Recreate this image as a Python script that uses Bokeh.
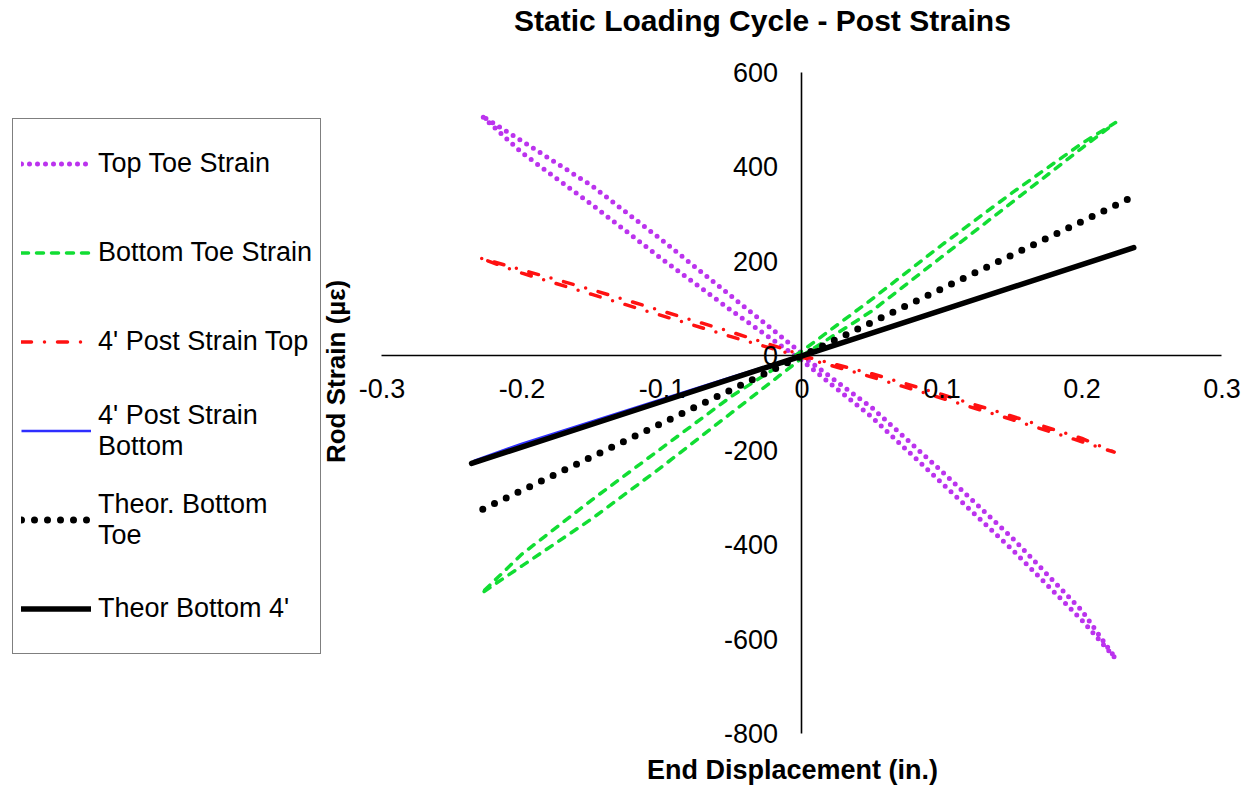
from bokeh.plotting import figure
from bokeh.models import (Range1d, FixedTicker, CustomJSTickFormatter, Label,
                          Legend, LegendItem, AllLabels)
from bokeh.embed import file_html
from bokeh.resources import INLINE

# ---------------- data ----------------
x_ticks = [-0.3, -0.2, -0.1, 0.0, 0.1, 0.2, 0.3]
y_ticks = [-800, -600, -400, -200, 0, 200, 400, 600]

top_toe_x = [0, 0.05, 0.1, 0.15, 0.2, 0.224, 0.2, 0.15, 0.1, 0.05, 0,
             -0.05, -0.1, -0.15, -0.2, -0.229, -0.2, -0.15, -0.1, -0.05, 0]
top_toe_y = [0, -110, -245, -385, -540, -641, -560, -410, -270, -130, -10,
             95, 205, 320, 430, 509, 455, 360, 245, 125, 5]

bot_toe_x = [0, 0.05, 0.1, 0.15, 0.2, 0.224, 0.2, 0.15, 0.1, 0.05, 0,
             -0.05, -0.1, -0.15, -0.2, -0.229, -0.2, -0.15, -0.1, -0.05, 0]
bot_toe_y = [0, 95, 210, 325, 440, 494, 450, 345, 235, 120, 10,
             -85, -195, -305, -420, -503, -445, -345, -235, -120, -5]

post_top_x = [0, 0.05, 0.1, 0.15, 0.2, 0.223, 0.2, 0.15, 0.1, 0.05, 0,
              -0.05, -0.1, -0.15, -0.2, -0.231, -0.2, -0.15, -0.1, -0.05, 0]
post_top_y = [0, -38, -82, -128, -175, -204, -182, -135, -90, -45, -3,
              40, 85, 130, 175, 208, 182, 140, 95, 50, 2]

post_bot_x = [0, 0.05, 0.1, 0.15, 0.2, 0.235, 0.2, 0.15, 0.1, 0.05, 0,
              -0.05, -0.1, -0.15, -0.2, -0.234, -0.2, -0.15, -0.1, -0.05, 0]
post_bot_y = [0, 47, 95, 144, 193, 227, 194, 146, 97, 49, 1,
              -45, -92, -139, -186, -222, -188, -141, -94, -47, 0]

theor_toe_x = [-0.228, 0, 0.236]
theor_toe_y = [-325, 0, 336]

theor_4_x = [-0.236, 0, 0.237]
theor_4_y = [-228, 0, 229]

labels = ["Top Toe Strain", "Bottom Toe Strain", "4' Post Strain Top",
          "4' Post Strain\nBottom", "Theor. Bottom\nToe", "Theor Bottom 4'"]

FONT = "Liberation Sans"

# ---------------- figure ----------------
p = figure(width=1251, height=787, output_backend="svg", toolbar_location=None,
           title=None,
           x_range=Range1d(-0.5725, 0.3211), y_range=Range1d(-914.4, 752.6),
           min_border=0, min_border_left=0, min_border_right=0,
           min_border_top=0, min_border_bottom=0)
p.grid.visible = False
p.outline_line_color = None
p.background_fill_color = "white"
p.border_fill_color = "white"

for ax in (p.xaxis[0], p.yaxis[0]):
    ax.fixed_location = 0
    ax.axis_line_color = "black"
    ax.axis_line_width = 1.6
    ax.major_tick_line_color = None
    ax.minor_tick_line_color = None
    ax.major_tick_in = 0
    ax.major_tick_out = 0
    ax.major_label_text_font = FONT
    ax.major_label_text_font_size = "27px"
    ax.major_label_text_color = "black"
    ax.major_label_policy = AllLabels()

p.xaxis[0].bounds = (x_ticks[0], x_ticks[-1])
p.xaxis[0].ticker = FixedTicker(ticks=x_ticks)
p.xaxis[0].formatter = CustomJSTickFormatter(
    code="const v = Math.round(tick*10)/10; return v === 0 ? '0' : v.toString();")
p.xaxis[0].major_label_standoff = 23

p.yaxis[0].bounds = (y_ticks[0], y_ticks[-1])
p.yaxis[0].ticker = FixedTicker(ticks=y_ticks)
p.yaxis[0].formatter = CustomJSTickFormatter(
    code="const v = Math.round(tick); return v === 0 ? '0' : v.toString();")
p.yaxis[0].major_label_standoff = 24

# ---------------- series ----------------
r1 = p.line(top_toe_x, top_toe_y, line_color="#BB33EE", line_width=5,
            line_dash="0 8", line_cap="round", line_join="round")
r2 = p.line(bot_toe_x, bot_toe_y, line_color="#11DD33", line_width=3.5,
            line_dash="7 8", line_cap="round", line_join="round")
r3 = p.line(post_top_x, post_top_y, line_color="#FF1111", line_width=3.5,
            line_dash="10 13 0 13", line_cap="round", line_join="round")
r4 = p.line(post_bot_x, post_bot_y, line_color="#2E2EFF", line_width=2.5,
            line_join="round")
r5 = p.line(theor_toe_x, theor_toe_y, line_color="black", line_width=7,
            line_dash="0 13", line_cap="round")
r6 = p.line(theor_4_x, theor_4_y, line_color="black", line_width=5.5,
            line_cap="round")

legend = Legend(items=[LegendItem(label=l, renderers=[r])
                       for l, r in zip(labels, [r1, r2, r3, r4, r5, r6])],
                location=(12, 133), margin=0, padding=8, spacing=16,
                glyph_width=70, glyph_height=73, label_standoff=7,
                label_text_font=FONT, label_text_font_size="27px",
                label_text_color="black", label_text_baseline="middle",
                border_line_color="black", border_line_width=1.5,
                background_fill_color="white", background_fill_alpha=1.0)
p.add_layout(legend)

# ---------------- titles ----------------
p.add_layout(Label(x=-0.0282, y=710, text="Static Loading Cycle - Post Strains",
                   text_font=FONT, text_font_style="bold", text_font_size="30px",
                   text_align="center", text_baseline="alphabetic", text_color="black"))
p.add_layout(Label(x=-0.0068, y=-877, text="End Displacement (in.)",
                   text_font=FONT, text_font_style="bold", text_font_size="27px",
                   text_align="center", text_baseline="alphabetic", text_color="black"))
p.add_layout(Label(x=-0.3325, y=-33, text="Rod Strain (µε)", angle=1.5708,
                   text_font=FONT, text_font_style="bold", text_font_size="26px",
                   text_align="center", text_baseline="middle", text_color="black"))

open("out.html", "w").write(file_html(p, INLINE))
